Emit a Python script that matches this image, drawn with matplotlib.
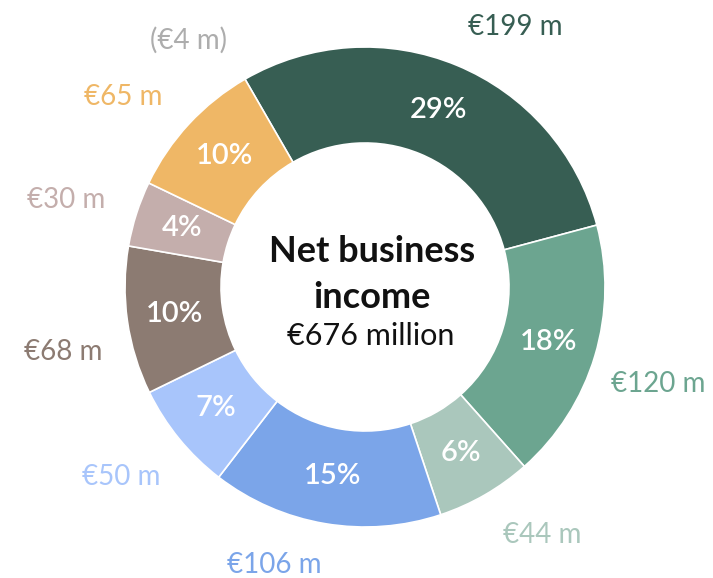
import matplotlib.pyplot as plt
import numpy as np

plt.rcParams['font.family'] = ['Lato', 'DejaVu Sans']

amounts = [199, 120, 44, 106, 50, 68, 30, 65]
amount_labels = ["€199 m", "€120 m", "€44 m", "€106 m", "€50 m", "€68 m", "€30 m", "€65 m"]
pct_labels = ["29%", "18%", "6%", "15%", "7%", "10%", "4%", "10%"]
negative_label = "(€4 m)"
total_label = "€676 million"
colors = ["#375E53", "#6CA590", "#AAC7BC", "#7BA5E9", "#A8C5FB", "#8C7B72", "#C4AEAC", "#EFB766"]

# nudges for the outer labels (degrees, radius in px)
label_shift = [-7.5, -1.5, 5.5, -8.5, -1.3, 4, 1.5, 4.7]
label_rad = [300, 309, 305, 292, 309, 309, 311, 307]

fig = plt.figure(figsize=(7.13, 5.78), dpi=100)
ax = fig.add_axes([0, 0, 1, 1])

cx, cy, R = 365, 291, 240
start = 120
wedges, _ = ax.pie(amounts, colors=colors, startangle=start, counterclock=False,
                   radius=R, center=(cx, cy), frame=True,
                   wedgeprops=dict(width=R * 0.4, edgecolor='white', linewidth=1.2))
ax.set_xlim(0, 713)
ax.set_ylim(0, 578)
ax.set_aspect('equal')
ax.axis('off')

for w, pct, lab, col, sh, rr in zip(wedges, pct_labels, amount_labels, colors, label_shift, label_rad):
    mid = np.deg2rad((w.theta1 + w.theta2) / 2)
    ax.text(cx + 0.8 * R * np.cos(mid), cy + 0.8 * R * np.sin(mid), pct,
            ha='center', va='center', color='white', fontsize=21, fontweight='semibold')
    a = mid + np.deg2rad(sh)
    ax.text(cx + rr * np.cos(a), cy + rr * np.sin(a), lab,
            ha='center', va='center', color=col, fontsize=20)

a = np.deg2rad(start + 5.6)
ax.text(cx + 304 * np.cos(a), cy + 304 * np.sin(a), negative_label,
        ha='center', va='center', color='#ADADAD', fontsize=20)

ax.text(cx + 7, cy + 35, "Net business", ha='center', va='center',
        fontsize=26, fontweight='bold', color='#111111')
ax.text(cx + 7, cy - 10, "income", ha='center', va='center',
        fontsize=26, fontweight='bold', color='#111111')
ax.text(cx + 6, cy - 49, total_label, ha='center', va='center',
        fontsize=22, color='#111111')

fig.savefig('out.png', dpi=100)
